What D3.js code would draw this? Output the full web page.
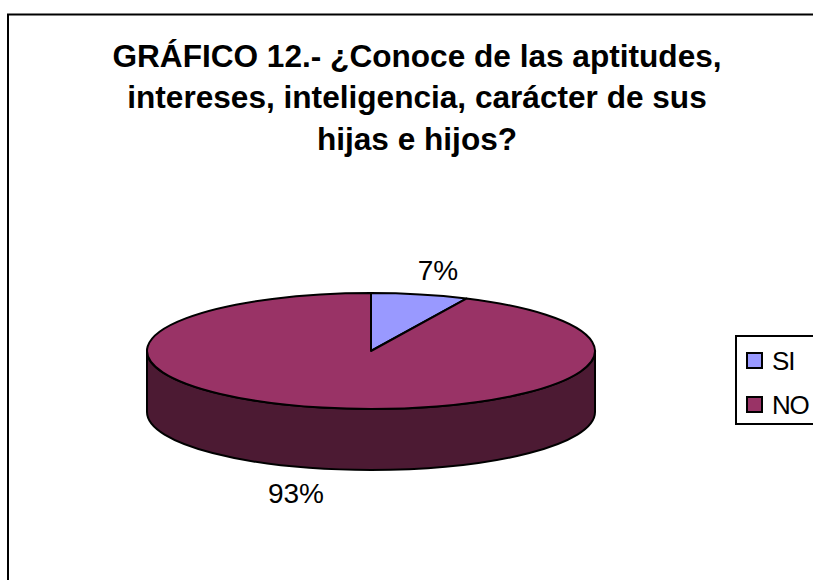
<!DOCTYPE html>
<html><head><meta charset="utf-8">
<script src="https://cdn.jsdelivr.net/npm/d3@7"></script>
<style>html,body{margin:0;padding:0;background:#fff;overflow:hidden}svg{display:block}text{font-family:"Liberation Sans",Arial,sans-serif;fill:#000}</style>
</head><body><svg id="c" width="813" height="580"></svg>
<script>
const titleLines = ["GRÁFICO 12.- ¿Conoce de las aptitudes,","intereses, inteligencia, carácter de sus","hijas e hijos?"];
const categories = ["SI","NO"];
const values = [7,93];
const labels = ["7%","93%"];
const colors = ["#9999FF","#993366"];
const sideColor = "#4C1A33";

const svg = d3.select("#c");
svg.append("rect").attr("x",8).attr("y",14.5).attr("width",860).attr("height",640)
  .attr("fill","#fff").attr("stroke","#000").attr("stroke-width",2);

svg.append("g").selectAll("text").data(titleLines).join("text")
  .attr("x",417).attr("y",(d,i)=>66.5+i*41.5).attr("text-anchor","middle")
  .attr("font-size",31.6).attr("font-weight","bold").text(d=>d);

const cx=371, cy=351, rx=224, ry=58, depth=61;
const pie = d3.pie().sort(null).value(d=>d)(values);

const k=0.5523;
const side = d3.path();
side.moveTo(cx-rx,cy);
side.lineTo(cx-rx,cy+depth);
side.bezierCurveTo(cx-rx,cy+depth+ry*k,cx-rx*k,cy+depth+ry,cx,cy+depth+ry);
side.bezierCurveTo(cx+rx*k,cy+depth+ry,cx+rx,cy+depth+ry*k,cx+rx,cy+depth);
side.lineTo(cx+rx,cy);
side.bezierCurveTo(cx+rx,cy+ry*k,cx+rx*k,cy+ry,cx,cy+ry);
side.bezierCurveTo(cx-rx*k,cy+ry,cx-rx,cy+ry*k,cx-rx,cy);
side.closePath();
svg.append("path").attr("d",side.toString()).attr("fill",sideColor)
  .attr("stroke","#000").attr("stroke-width",2).attr("stroke-linejoin","round");

const arc = d3.arc().innerRadius(0).outerRadius(rx);
svg.append("g").attr("transform",`translate(${cx},${cy}) scale(1,${ry/rx})`)
  .selectAll("path").data(pie).join("path")
  .attr("d",arc).attr("fill",(d,i)=>colors[i])
  .attr("stroke","#000").attr("stroke-width",2).attr("stroke-linejoin","round")
  .attr("vector-effect","non-scaling-stroke");

const labelPos = [[438,280],[296,503]];
svg.append("g").selectAll("text").data(labels).join("text")
  .attr("x",(d,i)=>labelPos[i][0]).attr("y",(d,i)=>labelPos[i][1])
  .attr("text-anchor","middle").attr("font-size",28).text(d=>d);

svg.append("rect").attr("x",736).attr("y",336).attr("width",100).attr("height",88)
  .attr("fill","#fff").attr("stroke","#000").attr("stroke-width",2);
const lg = svg.append("g").selectAll("g").data(categories).join("g")
  .attr("transform",(d,i)=>`translate(0,${i*44})`);
lg.append("rect").attr("x",747).attr("y",353).attr("width",15).attr("height",15)
  .attr("fill",(d,i)=>colors[i]).attr("stroke","#000").attr("stroke-width",2);
lg.append("text").attr("x",772).attr("y",370).attr("font-size",26).attr("letter-spacing",-1.2).text(d=>d);
</script></body></html>
